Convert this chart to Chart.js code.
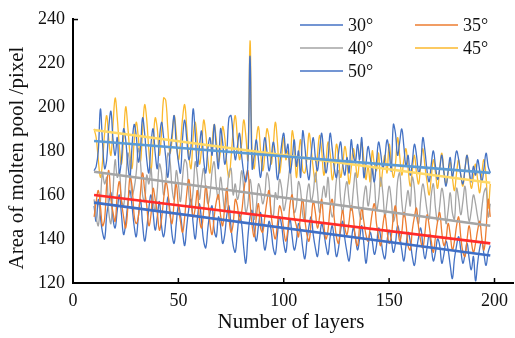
<!DOCTYPE html>
<html>
<head>
<meta charset="utf-8">
<script src="https://cdn.jsdelivr.net/npm/chart.js@4.4.1/dist/chart.umd.min.js"></script>
<style>
html,body{margin:0;padding:0;background:#fff;}
#wrap{width:515px;height:338px;position:relative;}
</style>
</head>
<body>
<div id="wrap"><canvas id="c" width="515" height="338"></canvas></div>
<script>
// ---- data ----
const firstLayer = 10;
const seriesLabels = ['30°', '35°', '40°', '45°', '50°'];
const xTicks = [0, 50, 100, 150, 200];
const yTicks = [120, 140, 160, 180, 200, 220, 240];
const xTitle = 'Number of layers';
const yTitle = 'Area of molten pool /pixel';

const s30 = [
171,173,180,199,184,172,176,191,198,185,
178,186,170,176,190,185,174,168,182,192,
187,175,181,195,188,176,170,183,190,179,
172,185,193,186,177,168,179,188,196,183,
175,170,186,194,185,176,182,199,188,173,
182,189,176,170,181,186,178,192,181,172,
190,184,174,180,195,196,186,176,182,188,
178,170,166,175,223,172,178,185,176,168,
177,186,180,171,176,184,178,167,173,183,
188,179,183,170,176,185,173,180,168,189,
182,172,167,178,186,177,171,180,188,178,
170,176,188,181,172,168,179,184,174,169,
177,170,185,178,175,183,176,186,168,174,
182,177,171,166,175,184,179,172,177,185,
180,171,192,188,178,184,190,182,173,178,
169,175,183,178,170,174,186,180,171,166,
174,180,173,167,172,178,170,164,171,177,
168,174,180,176,169,165,172,178,171,166,
173,169,176,171,166,172,179,173,170
];
const s35 = [
150,157,162,155,146,149,165,171,158,152,
148,160,166,157,150,145,154,168,164,151,
147,150,161,170,162,155,146,151,163,158,
152,144,149,158,166,162,151,147,157,165,
155,148,143,150,161,167,158,150,154,162,
149,145,153,164,158,147,142,150,157,160,
151,146,155,163,150,143,147,158,155,148,
152,161,168,171,157,146,141,150,156,145,
143,150,157,162,151,144,140,147,155,152,
144,139,145,156,160,150,146,141,152,158,
149,142,139,148,157,152,145,150,158,147,
140,144,154,158,149,141,138,147,153,145,
142,148,155,150,140,137,146,154,148,142,
139,145,152,156,147,141,137,146,151,144,
138,141,150,155,146,139,143,152,147,137,
135,144,150,154,145,139,136,143,151,146,
139,134,141,148,152,143,137,140,147,142,
135,139,146,150,141,134,132,140,146,139,
134,138,144,148,140,135,144,158,150
];
const s40 = [
158,150,146,157,170,165,168,152,147,162,
176,168,171,158,155,166,179,173,160,163,
170,181,175,160,157,169,165,172,158,153,
162,174,170,160,166,179,176,163,158,171,
165,157,168,176,174,160,155,162,175,169,
158,166,172,163,156,160,171,175,164,158,
168,161,153,159,170,172,160,165,158,162,
171,163,152,156,167,160,149,155,165,162,
156,160,170,166,152,150,161,158,167,163,
153,157,165,172,160,152,155,166,162,151,
148,160,165,157,161,170,162,152,158,164,
159,168,156,150,155,167,171,158,152,161,
166,158,153,162,170,160,151,149,159,164,
155,161,173,166,153,158,168,161,150,157,
164,158,148,152,166,170,157,150,156,162,
155,168,163,150,147,158,165,160,153,149,
160,165,154,148,155,163,158,147,153,161,
152,149,163,158,151,157,164,155,148,153,
160,156,150,146,154,161,163,150,156
];
const s45 = [
190,186,176,168,175,188,196,185,178,192,
204,195,182,174,186,200,191,179,172,184,
193,186,175,189,201,194,180,171,183,195,
190,178,188,204,203,190,179,185,196,188,
176,183,195,201,190,178,172,186,193,184,
174,181,194,188,176,170,183,192,185,175,
180,191,186,174,168,177,189,196,186,176,
183,194,187,176,230,178,172,185,191,180,
171,178,190,186,174,182,193,184,170,177,
186,176,180,172,189,183,168,178,185,171,
170,177,188,181,172,166,178,187,180,169,
175,184,179,167,172,183,177,168,174,182,
176,165,172,181,175,168,177,184,176,167,
173,166,180,174,171,179,164,172,178,170,
183,175,168,174,186,178,169,176,181,172,
164,171,178,170,165,174,181,173,166,160,
168,176,170,163,172,179,171,165,170,175,
168,162,170,176,169,164,172,178,170,163,
168,174,167,161,170,176,168,154,165
];
const s50 = [
155,148,158,150,143,140,151,157,161,149,
145,153,160,151,142,147,156,162,155,146,
141,150,158,147,139,145,154,160,152,144,
150,157,146,141,148,159,153,142,138,147,
155,151,143,137,146,154,158,147,140,149,
156,148,139,136,145,152,155,144,141,150,
146,138,142,151,155,145,137,134,143,151,
147,136,129,141,150,153,144,139,146,152,
143,135,140,148,144,136,133,142,150,146,
138,134,143,149,141,135,139,147,144,136,
131,139,146,150,142,136,132,140,147,143,
137,133,141,146,139,132,136,144,148,140,
134,130,138,145,141,135,140,146,138,129,
136,143,139,133,137,145,141,134,131,139,
144,140,134,138,146,142,135,130,137,143,
139,132,128,135,141,145,137,131,136,142,
136,130,134,140,137,129,133,139,135,128,
122,131,137,141,135,129,133,138,131,126,
132,121,129,136,139,133,128,134,137
];
// linear trend lines: value at first and last layer
const trendLayers = [10, 198];
const trend30 = [184.5, 170];
const trend35 = [160, 138];
const trend40 = [170.5, 146];
const trend45 = [189.5, 165.5];
const trend50 = [156.5, 132.5];

// ---- styles ----
const lineColors = ['#4472C4', '#ED7D31', '#A5A5A5', '#FBB92E', '#4472C4'];
const trendColors = ['#5B9BD5', '#FF2A2A', '#A5A5A5', '#FFD966', '#3F6FC6'];
const FONT = "'Liberation Serif', 'Times New Roman', serif";

const seriesData = [s30, s35, s40, s45, s50];
const trends = [trend30, trend35, trend40, trend45, trend50];

function toPoints(arr) {
  return arr.map((v, i) => ({x: firstLayer + i, y: v}));
}

const datasets = [];
seriesData.forEach((arr, k) => {
  datasets.push({
    label: seriesLabels[k],
    data: toPoints(arr),
    borderColor: lineColors[k],
    borderWidth: 1.3,
    pointRadius: 0,
    tension: 0.4,
    fill: false,
    order: 2
  });
});
trends.forEach((t, k) => {
  datasets.push({
    label: 'trend ' + seriesLabels[k],
    data: trendLayers.map((x, i) => ({x: x, y: t[i]})),
    borderColor: trendColors[k],
    borderWidth: 2.6,
    pointRadius: 0,
    tension: 0,
    fill: false,
    order: 1
  });
});

const customLegend = {
  id: 'customLegend',
  afterDraw(chart) {
    const ctx = chart.ctx;
    const rows = [25, 48, 71];
    const cols = [[300, 343, 348], [415, 458, 463]];
    ctx.save();
    ctx.font = "18px " + FONT;
    ctx.textBaseline = 'middle';
    ctx.textAlign = 'left';
    seriesLabels.forEach((lab, k) => {
      const r = Math.floor(k / 2), c = k % 2;
      const y = rows[r];
      const [x0, x1, tx] = cols[c];
      ctx.strokeStyle = lineColors[k];
      ctx.lineWidth = 1.5;
      ctx.beginPath();
      ctx.moveTo(x0, y);
      ctx.lineTo(x1, y);
      ctx.stroke();
      ctx.fillStyle = '#111';
      ctx.fillText(lab, tx, y + 1);
    });
    ctx.restore();
  }
};

const axisTitles = {
  id: 'axisTitles',
  afterDraw(chart) {
    const ctx = chart.ctx;
    ctx.save();
    ctx.fillStyle = '#111';
    ctx.textAlign = 'center';
    ctx.textBaseline = 'middle';
    ctx.font = "21px " + FONT;
    ctx.fillText(xTitle, 291, 322, 157);
    ctx.translate(17, 158);
    ctx.rotate(-Math.PI / 2);
    ctx.fillText(yTitle, 0, 0, 228);
    ctx.restore();
  }
};

const innerTicks = {
  id: 'innerTicks',
  afterDatasetsDraw(chart) {
    const ctx = chart.ctx;
    const xs = chart.scales.x, ys = chart.scales.y;
    const a = chart.chartArea;
    ctx.save();
    ctx.strokeStyle = '#000';
    ctx.lineWidth = 1.5;
    xTicks.forEach(v => {
      if (v === 0) return;
      const px = xs.getPixelForValue(v);
      ctx.beginPath();
      ctx.moveTo(px, a.bottom);
      ctx.lineTo(px, a.bottom - 5);
      ctx.stroke();
    });
    const py = ys.getPixelForValue(yTicks[yTicks.length - 1]);
    ctx.beginPath();
    ctx.moveTo(a.left, py + 0.75);
    ctx.lineTo(a.left + 5, py + 0.75);
    ctx.stroke();
    ctx.restore();
  }
};

new Chart(document.getElementById('c'), {
  type: 'line',
  data: {datasets},
  options: {
    responsive: false,
    animation: false,
    devicePixelRatio: 1,
    layout: {padding: {top: 15, right: 0, bottom: 0, left: 0}},
    plugins: {legend: {display: false}, tooltip: {enabled: false}},
    scales: {
      x: {
        type: 'linear',
        min: 0,
        max: 209,
        afterBuildTicks(scale) { scale.ticks = xTicks.map(v => ({value: v})); },
        afterFit(scale) { scale.height = 55; },
        grid: {display: false, drawTicks: false},
        border: {display: true, color: '#000', width: 2},
        ticks: {color: '#111', font: {family: FONT, size: 18}, padding: 7, maxRotation: 0, autoSkip: false}
      },
      y: {
        min: 120,
        max: 240,
        afterBuildTicks(scale) { scale.ticks = yTicks.map(v => ({value: v})); },
        afterFit(scale) { scale.width = 73; },
        grid: {display: false, drawTicks: false},
        border: {display: true, color: '#000', width: 2},
        ticks: {color: '#111', font: {family: FONT, size: 18}, padding: 8}
      }
    }
  },
  plugins: [customLegend, innerTicks, axisTitles]
});
</script>
</body>
</html>
